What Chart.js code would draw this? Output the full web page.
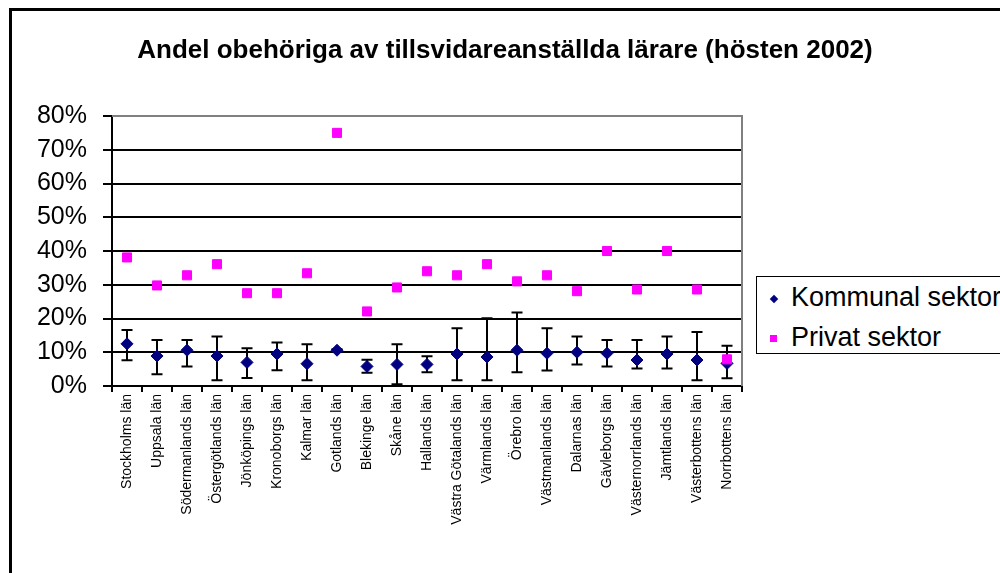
<!DOCTYPE html>
<html>
<head>
<meta charset="utf-8">
<script src="https://cdn.jsdelivr.net/npm/chart.js@4.4.0/dist/chart.umd.min.js"></script>
<style>
body{margin:0;width:1000px;height:573px;overflow:hidden;background:#fff;position:relative;font-family:"Liberation Sans",Arial,sans-serif}
#ram{position:absolute;left:9px;top:8px;width:1100px;height:700px;border:3px solid #000}
#graf{position:absolute;left:0;top:0}
#titel{position:absolute;left:0;width:1010px;top:36px;text-align:center;font-weight:bold;font-size:26px;line-height:26px;color:#000}
#leg{position:absolute;left:756px;top:276px;width:300px;height:76px;border:1px solid #000;background:#fff}
#leg .txt{position:absolute;left:34px;font-size:27px;line-height:27px;color:#000;white-space:nowrap}
#leg .ruta{position:absolute}
</style>
</head>
<body>
<div id="ram"></div>
<canvas id="graf" width="1000" height="573"></canvas>
<div id="titel">Andel obehöriga av tillsvidareanställda lärare (hösten 2002)</div>
<div id="leg">
  <div class="ruta" style="left:14px;top:19px;width:6px;height:6px;background:#000080;transform:rotate(45deg)"></div>
  <div class="txt" style="top:7px">Kommunal sektor</div>
  <div class="ruta" style="left:13px;top:58px;width:7px;height:7px;background:#ff00ff"></div>
  <div class="txt" style="top:47px">Privat sektor</div>
</div>
<script>
// län på x-axeln
const laen = ['Stockholms län','Uppsala län','Södermanlands län','Östergötlands län','Jönköpings län','Kronoborgs län','Kalmar län','Gotlands län','Blekinge län','Skåne län','Hallands län','Västra Götalands län','Värmlands län','Örebro län','Västmanlands län','Dalarnas län','Gävleborgs län','Västernorrlands län','Jämtlands län','Västerbottens län','Norrbottens län'];

// kommunal sektor, medel + felstaplar (procent)
const kommunal    = [12.5, 8.9, 10.6, 8.9, 7.0, 9.5, 6.6, 10.6, 5.8, 6.4, 6.4, 9.5, 8.6, 10.6, 9.7, 10.0, 9.7, 7.7, 9.5, 7.7, 6.7];
const kommunalLag = [7.6, 3.5, 5.8, 1.7, 2.4, 4.7, 1.7, 10.3, 3.9, 0.5, 4.1, 1.7, 1.7, 4.1, 4.6, 6.4, 5.8, 5.2, 5.2, 1.7, 2.3];
const kommunalHog = [16.6, 13.6, 13.6, 14.7, 11.2, 12.9, 12.4, 10.9, 7.8, 12.4, 8.8, 17.1, 20.1, 21.8, 17.1, 14.7, 13.6, 13.6, 14.7, 16.0, 11.9];

// privat sektor (procent)
const privat = [38.1, 29.8, 32.8, 36.1, 27.5, 27.5, 33.4, 75.0, 22.1, 29.2, 34.0, 32.8, 36.1, 31.0, 32.8, 28.1, 40.0, 28.6, 40.0, 28.6, 7.9];

const yMax = 80, ySteg = 10;
const font = '"Liberation Sans", Arial, sans-serif';

// felstaplar + grå ram uppe/höger
const felstaplar = {
  id: 'felstaplar',
  beforeDatasetsDraw(chart) {
    const ctx = chart.ctx, x = chart.scales.x, y = chart.scales.y;
    ctx.save();
    ctx.strokeStyle = '#000';
    ctx.lineWidth = 2;
    for (let i = 0; i < laen.length; i++) {
      const px = x.getPixelForValue(i);
      const topp = y.getPixelForValue(kommunalHog[i]);
      const botten = y.getPixelForValue(kommunalLag[i]);
      ctx.beginPath();
      ctx.moveTo(px, topp); ctx.lineTo(px, botten);
      ctx.moveTo(px - 5.5, topp); ctx.lineTo(px + 5.5, topp);
      ctx.moveTo(px - 5.5, botten); ctx.lineTo(px + 5.5, botten);
      ctx.stroke();
    }
    ctx.restore();
  },
  afterDraw(chart) {
    const a = chart.chartArea, ctx = chart.ctx;
    ctx.save();
    ctx.strokeStyle = '#808080';
    ctx.lineWidth = 2;
    ctx.beginPath();
    ctx.moveTo(a.left, a.top); ctx.lineTo(a.right, a.top); ctx.lineTo(a.right, a.bottom);
    ctx.stroke();
    ctx.restore();
  }
};

const ctx = document.getElementById('graf').getContext('2d');
const graf = new Chart(ctx, {
  type: 'line',
  data: {
    labels: laen,
    datasets: [{
      label: 'Kommunal sektor',
      data: kommunal,
      showLine: false,
      pointStyle: 'rectRot',
      pointRadius: 6,
      pointBackgroundColor: '#000080',
      pointBorderColor: '#000080',
      pointBorderWidth: 1,
      order: 1
    }, {
      label: 'Privat sektor',
      data: privat,
      showLine: false,
      pointStyle: 'rect',
      pointRadius: 6.4,
      pointBackgroundColor: '#ff00ff',
      pointBorderColor: '#ff00ff',
      pointBorderWidth: 1,
      order: 0
    }]
  },
  options: {
    responsive: false,
    devicePixelRatio: 1,
    animation: false,
    events: [],
    layout: { padding: { left: 0, top: 116, right: 258, bottom: 0 } },
    plugins: { legend: { display: false }, title: { display: false }, tooltip: { enabled: false } },
    scales: {
      x: {
        offset: true,
        grid: { offset: true, drawOnChartArea: false, color: '#000', lineWidth: 2, tickLength: 6 },
        border: { color: '#000', width: 2 },
        ticks: { autoSkip: false, minRotation: 90, maxRotation: 90, padding: 2, color: '#000', font: { family: font, size: 14 } },
        afterFit(a) { a.height = 187; }
      },
      y: {
        min: 0,
        max: yMax,
        ticks: { stepSize: ySteg, padding: 16, color: '#000', font: { family: font, size: 25 }, callback: v => v + '%' },
        grid: { color: '#000', lineWidth: 2, tickLength: 9 },
        border: { color: '#000', width: 2 },
        afterFit(a) { a.width = 112; }
      }
    }
  },
  plugins: [felstaplar]
});
</script>
</body>
</html>
